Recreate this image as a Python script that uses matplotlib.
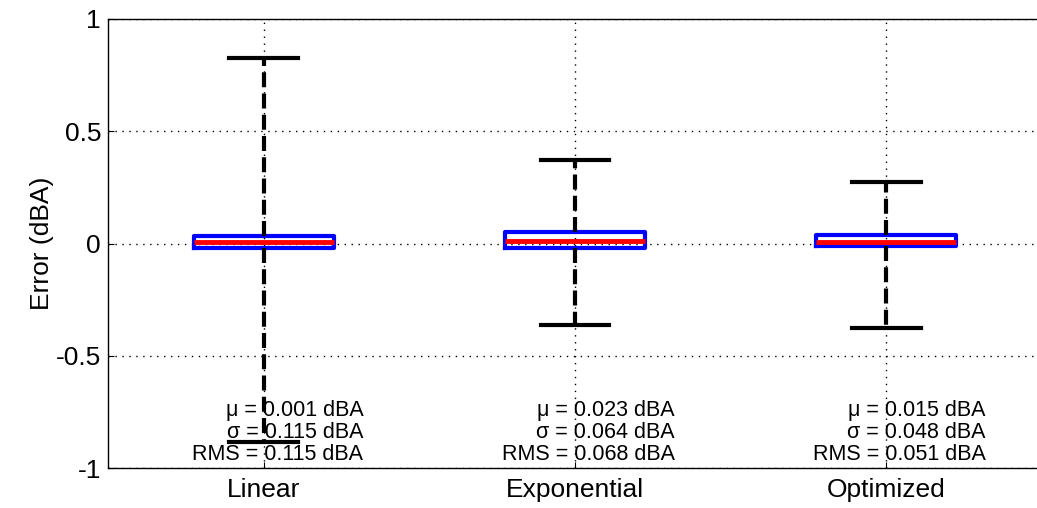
import numpy as np
import matplotlib.pyplot as plt

plt.rcParams['font.family'] = ['Liberation Sans', 'DejaVu Sans']

# box plot values (dBA)
methods = ['Linear', 'Exponential', 'Optimized']
whislo = [-0.884, -0.362, -0.376]
q1 = [-0.020, -0.020, -0.011]
med = [0.007, 0.011, 0.007]
q3 = [0.033, 0.051, 0.038]
whishi = [0.826, 0.372, 0.274]

# statistics printed under each box
mu = ['0.001', '0.023', '0.015']
sigma = ['0.115', '0.064', '0.048']
rms = ['0.115', '0.068', '0.051']

stats = []
for i in range(len(methods)):
    stats.append({'label': methods[i], 'whislo': whislo[i], 'q1': q1[i], 'med': med[i],
                  'q3': q3[i], 'whishi': whishi[i], 'fliers': []})

fig = plt.figure(figsize=(10.37, 5.08), dpi=100)
ax = fig.add_axes([108 / 1037, 40 / 508, 934 / 1037, 449 / 508])

pos = np.arange(1, len(methods) + 1)
ax.bxp(stats, positions=pos, widths=0.45, capwidths=0.22, showfliers=False,
       boxprops=dict(color='#0000ff', linewidth=3, zorder=4),
       medianprops=dict(color='#ff0000', linewidth=3.5, zorder=4),
       whiskerprops=dict(color='black', linewidth=3, linestyle=(0, (3.6, 1.5)), zorder=4),
       capprops=dict(color='black', linewidth=3, zorder=4))

# stats text sits under the whiskers, like the original
for i, p in enumerate(pos):
    x = p + 0.32
    ax.text(x, -0.746, '\u03bc = ' + mu[i] + ' dBA', ha='right', va='center', fontsize=15.5)
    ax.text(x, -0.844, '\u03c3 = ' + sigma[i] + ' dBA', ha='right', va='center', fontsize=15.5)
    ax.text(x, -0.942, 'RMS = ' + rms[i] + ' dBA', ha='right', va='center', fontsize=15.5)

ax.set_xlim(0.5, 3.5)
ax.set_ylim(-1, 1)
ax.set_yticks([-1, -0.5, 0, 0.5, 1])
ax.set_yticklabels(['-1', '-0.5', '0', '0.5', '1'])
ax.set_xticks(pos)
ax.set_xticklabels(methods)
ax.tick_params(axis='both', labelsize=19, direction='in', length=4)
ax.tick_params(axis='x', pad=7)
ax.tick_params(axis='y', pad=5)
ax.grid(True, linestyle=(0, (1, 4)), color='black', linewidth=1)
ax.set_axisbelow(True)
ax.set_ylabel('Error (dBA)', fontsize=19, labelpad=1)
for s in ax.spines.values():
    s.set_linewidth(1)

fig.savefig('out.png', dpi=100)
